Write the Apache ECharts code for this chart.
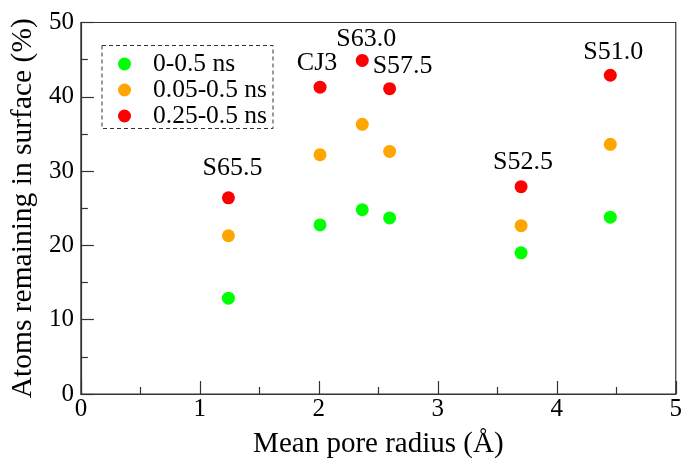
<!DOCTYPE html>
<html>
<head>
<meta charset="utf-8">
<script src="https://cdn.jsdelivr.net/npm/echarts@6/dist/echarts.min.js"></script>
<style>
  html, body { margin: 0; padding: 0; background: #fff; }
  #chart { width: 685px; height: 464px; }
</style>
</head>
<body>
<div id="chart"></div>
<script>
// Samples and their mean pore radius (Å)
const samples = ['S65.5', 'CJ3', 'S63.0', 'S57.5', 'S52.5', 'S51.0'];
const poreRadius = [1.24, 2.01, 2.365, 2.595, 3.70, 4.45];

// Atoms remaining in surface (%) for each time window
const seriesNames = ['0-0.5 ns', '0.05-0.5 ns', '0.25-0.5 ns'];
const window0 = [12.9, 22.75, 24.8, 23.7, 19.0, 23.8];
const window005 = [21.3, 32.2, 36.3, 32.65, 22.65, 33.6];
const window025 = [26.4, 41.3, 44.9, 41.1, 27.9, 42.9];

const FONT = '"Liberation Serif", "Times New Roman", serif';
const colors = ['#00ff00', '#ffa500', '#ff0000'];

// nudges that keep the sample labels clear of neighbouring marks
const labelNudge = [[4, -6], [-3, 0], [4, 2.5], [13, 1.5], [2, -1], [3, 0]];

function points(values) {
  return values.map((v, i) => [poreRadius[i], v]);
}

const chart = echarts.init(document.getElementById('chart'), null, { renderer: 'canvas' });

const axisCommon = {
  axisLine: { show: true, lineStyle: { color: '#333', width: 1.2 } },
  splitLine: { show: false },
  nameTextStyle: { fontFamily: FONT, fontSize: 29, color: '#000' },
  axisLabel: { fontFamily: FONT, fontSize: 25, color: '#000' },
  axisTick: { show: true, inside: true, length: 13, lineStyle: { color: '#333', width: 1.2 } },
  minorTick: { show: true, splitNumber: 2, length: 7, lineStyle: { color: '#333', width: 1.2 } }
};

chart.setOption({
  backgroundColor: '#fff',
  animation: false,
  grid: {
    left: 79, right: 6, top: 22.5, bottom: 64.5,
    show: true, borderColor: '#333', borderWidth: 1.2
  },
  xAxis: Object.assign({}, axisCommon, {
    type: 'value', min: 0, max: 5, interval: 1,
    name: 'Mean pore radius (Å)', nameLocation: 'middle', nameGap: 36,
    axisLabel: Object.assign({}, axisCommon.axisLabel, { margin: 3 })
  }),
  yAxis: Object.assign({}, axisCommon, {
    type: 'value', min: 0, max: 50, interval: 10,
    name: 'Atoms remaining in surface (%)', nameLocation: 'middle', nameGap: 39,
    nameTextStyle: Object.assign({}, axisCommon.nameTextStyle, { fontSize: 29.5 }),
    axisLabel: Object.assign({}, axisCommon.axisLabel, { margin: 7 })
  }),
  legend: {
    left: 113, top: 46,
    orient: 'vertical',
    itemWidth: 13, itemHeight: 13, itemGap: 0,
    icon: 'circle',
    textStyle: { fontFamily: FONT, fontSize: 25.5, color: '#000', lineHeight: 25, padding: [0, 0, 0, 17] },
    data: seriesNames
  },
  graphic: [{
    type: 'rect',
    shape: { x: 102, y: 45.5, width: 171, height: 83 },
    style: { fill: null, stroke: '#333', lineWidth: 1, lineDash: [4, 3] },
    z: 100
  }],
  series: [
    { name: seriesNames[0], type: 'scatter', symbolSize: 13, data: points(window0),
      itemStyle: { color: colors[0], opacity: 1 } },
    { name: seriesNames[1], type: 'scatter', symbolSize: 13, data: points(window005),
      itemStyle: { color: colors[1], opacity: 1 } },
    { name: seriesNames[2], type: 'scatter', symbolSize: 13,
      data: points(window025).map((p, i) => ({
        value: p,
        label: { offset: labelNudge[i] }
      })),
      itemStyle: { color: colors[2], opacity: 1 },
      label: {
        show: true, position: 'top', distance: 4,
        formatter: (p) => samples[p.dataIndex],
        fontFamily: FONT, fontSize: 26, color: '#000'
      }
    }
  ]
});
</script>
</body>
</html>
